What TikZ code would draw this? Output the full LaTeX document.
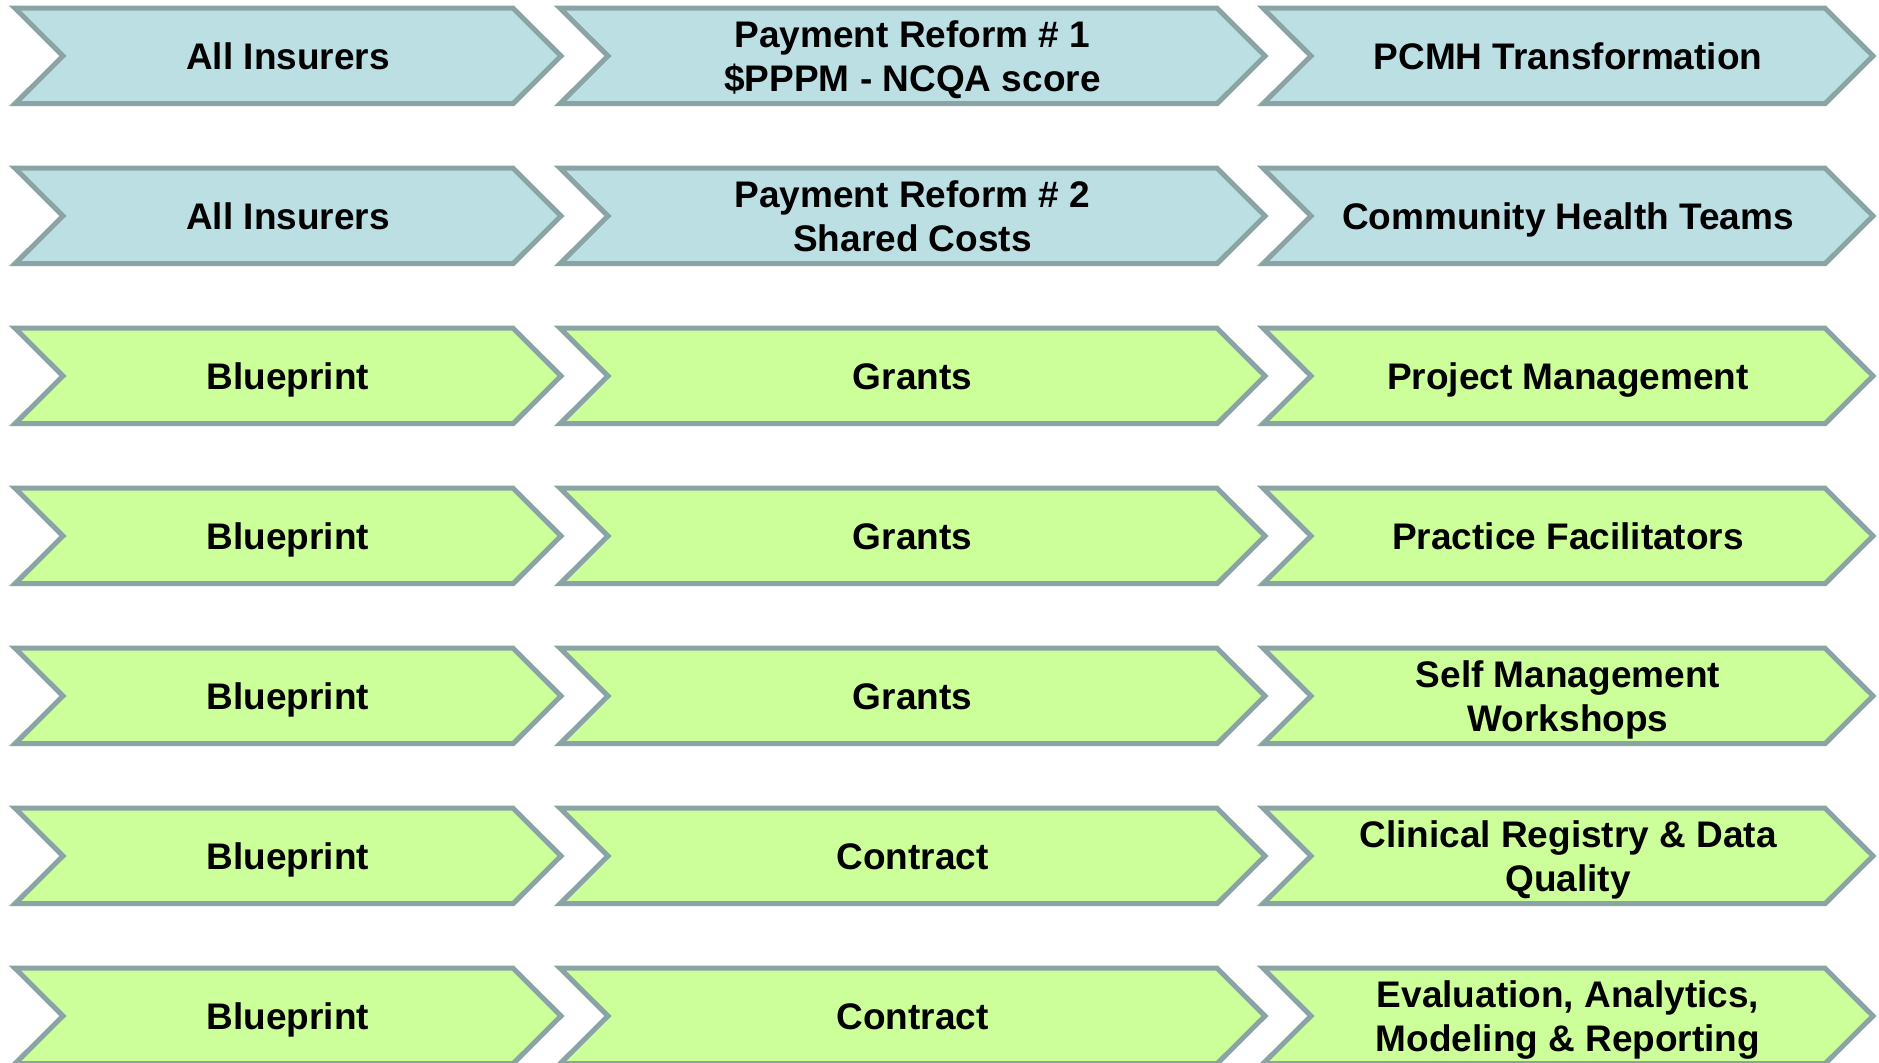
\documentclass[tikz,border=0pt]{standalone}
\usepackage{fontspec}
\setmainfont{Liberation Sans}
\definecolor{edgegray}{RGB}{138,164,166}
\definecolor{payblue}{RGB}{188,223,228}
\definecolor{fundgreen}{RGB}{204,255,153}
% strut that centres the cap height of every label line
\newcommand{\lblstrut}{\rule[-0.23em]{0pt}{1.18em}}
% #1 name, #2 left x, #3 top y, #4 width, #5 fill colour, #6 label
\newcommand{\chevron}[6]{%
  \draw[chevbox, fill=#5] (#2,#3) -- ++(#4-48,0) -- ++(48,47.75) -- ++(-48,47.75)
        -- ++(-#4+48,0) -- ++(48,-47.75) -- cycle;
  \node[chevlabel] (#1) at (#2+#4/2,#3+47.75) {\lblstrut#6\lblstrut};
}
\begin{document}
\begin{tikzpicture}[x=0.5pt,y=-0.5pt,
  chevbox/.style={draw=edgegray, line width=2.5pt, line join=miter},
  chevlabel/.style={align=center, inner sep=0pt,
    font=\fontsize{18.5}{22}\selectfont\bfseries}]
\clip (0,0) rectangle (1879,1062);
\fill[white] (0,0) rectangle (1879,1062);
% row 1
\chevron{r1a}{15}{8.2}{546}{payblue}{All Insurers}
\chevron{r1b}{560}{8.2}{705}{payblue}{Payment Reform \# 1\\\$PPPM - NCQA score}
\chevron{r1c}{1263}{8.2}{610}{payblue}{PCMH Transformation}
% row 2
\chevron{r2a}{15}{168.2}{546}{payblue}{All Insurers}
\chevron{r2b}{560}{168.2}{705}{payblue}{Payment Reform \# 2\\Shared Costs}
\chevron{r2c}{1263}{168.2}{610}{payblue}{Community Health Teams}
% row 3
\chevron{r3a}{15}{328.2}{546}{fundgreen}{Blueprint}
\chevron{r3b}{560}{328.2}{705}{fundgreen}{Grants}
\chevron{r3c}{1263}{328.2}{610}{fundgreen}{Project Management}
% row 4
\chevron{r4a}{15}{488.2}{546}{fundgreen}{Blueprint}
\chevron{r4b}{560}{488.2}{705}{fundgreen}{Grants}
\chevron{r4c}{1263}{488.2}{610}{fundgreen}{Practice Facilitators}
% row 5
\chevron{r5a}{15}{648.2}{546}{fundgreen}{Blueprint}
\chevron{r5b}{560}{648.2}{705}{fundgreen}{Grants}
\chevron{r5c}{1263}{648.2}{610}{fundgreen}{Self Management\\Workshops}
% row 6
\chevron{r6a}{15}{808.2}{546}{fundgreen}{Blueprint}
\chevron{r6b}{560}{808.2}{705}{fundgreen}{Contract}
\chevron{r6c}{1263}{808.2}{610}{fundgreen}{Clinical Registry \& Data\\Quality}
% row 7
\chevron{r7a}{15}{968.2}{546}{fundgreen}{Blueprint}
\chevron{r7b}{560}{968.2}{705}{fundgreen}{Contract}
\chevron{r7c}{1263}{968.2}{610}{fundgreen}{Evaluation, Analytics,\\Modeling \& Reporting}
\end{tikzpicture}
\end{document}
